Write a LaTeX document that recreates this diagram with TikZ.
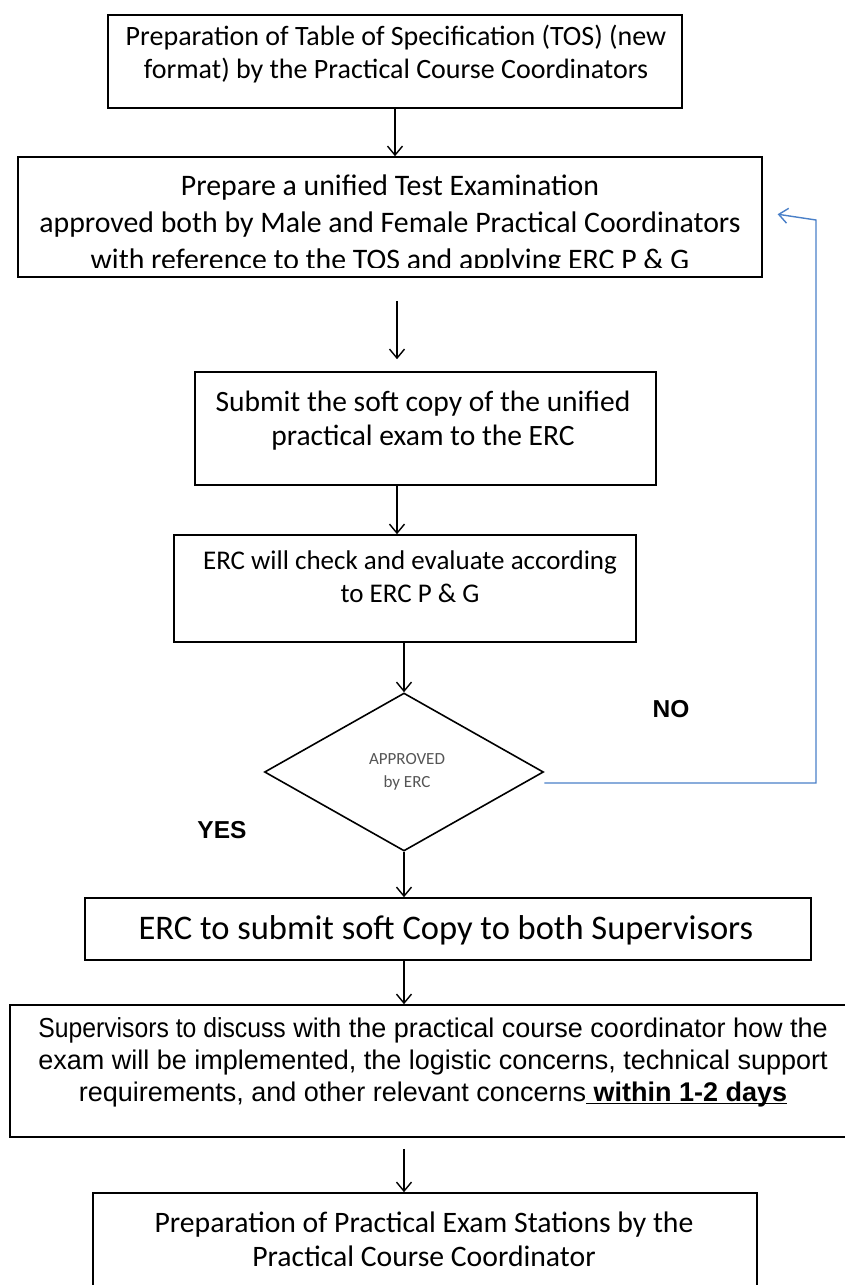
\documentclass[tikz,border=0pt]{standalone}
\usepackage{fontspec}
\setmainfont{Carlito}
\newfontfamily\arialn{Liberation Sans}
\newfontfamily\arialsm[FakeStretch=0.9]{Liberation Sans}
\newfontfamily\arialb{Liberation Sans}
\usetikzlibrary{shapes.geometric,arrows.meta,calc}
\definecolor{loopblue}{RGB}{74,128,200}
\definecolor{dtext}{RGB}{85,85,85}
\newcommand\myul[1]{\setbox0\hbox{#1}\rlap{\rule[-3pt]{\wd0}{1.3pt}}\box0}
\begin{document}
\begin{tikzpicture}[x=1pt,y=-1pt,
  box/.style={draw=black,line width=1.6pt,rectangle,inner sep=0pt},
  txt/.style={align=center,inner sep=0pt},
  flow/.style={draw=black,line width=1.4pt,-{Straight Barb[length=9pt,width=15pt]}},
  back/.style={draw=loopblue,line width=1.4pt,-{Straight Barb[length=9pt,width=15pt]}},
  lab/.style={inner sep=0pt,font=\arialb\bfseries\fontsize{24.5}{28}\selectfont}
]
\useasboundingbox[fill=white] (0,0) rectangle (844,1285);

% boxes
\node[box,minimum width=574pt,minimum height=93pt] (b1) at (395,61.5) {};
\node[txt,font=\fontsize{28}{33}\selectfont] (t1) at (396,54) {Preparation of Table of Specification (TOS) (new\\format) by the Practical Course Coordinators};

\node[box,minimum width=744pt,minimum height=120pt] (b2) at (390,217) {};
\begin{scope}
\clip ([yshift=10pt]b2.south west) rectangle (b2.north east);
\node[txt,font=\fontsize{29.8}{37}\selectfont] (t2) at (390,225) {Prepare a unified Test Examination\\approved both by Male and Female Practical Coordinators\\with reference to the TOS and applying ERC P \& G};
\end{scope}

\node[box,minimum width=461pt,minimum height=113pt] (b3) at (425.5,428.5) {};
\node[txt,font=\fontsize{29.5}{34}\selectfont] (t3) at (423,421) {Submit the soft copy of the unified\\practical exam to the ERC};

\node[box,minimum width=462pt,minimum height=107pt] (b4) at (405,588.5) {};
\node[txt,font=\fontsize{27}{33}\selectfont] (t4) at (410,577) {ERC will check and evaluate according\\to ERC P \& G};

\node[draw=black,line width=1.6pt,diamond,inner sep=0pt,minimum width=279pt,minimum height=158pt] (d) at (404,772) {};
\node[txt,text=dtext,font=\fontsize{17}{23}\selectfont] (td) at (407,772) {APPROVED\\by ERC};

\node[lab] (no) at (671,709) {NO};
\node[lab] (yes) at (222,830) {YES};

\node[box,minimum width=726pt,minimum height=62pt] (b5) at (448,929) {};
\node[txt,font=\fontsize{34.5}{40}\selectfont] (t5) at (446,930) {ERC to submit soft Copy to both Supervisors};

\node[box,minimum width=846pt,minimum height=132pt] (b6) at (433,1071) {};
\node[txt,font=\arialn\fontsize{27}{32}\selectfont] (t6) at (433,1062) {{\arialsm\fontsize{27.5}{32}\selectfont Supervisors to discuss} with the practical course coordinator how the\\exam will be implemented, the logistic concerns, technical support\\requirements, and other relevant concerns\myul{\textbf{\ within 1-2 days}}};

\node[box,minimum width=664pt,minimum height=107pt] (b7) at (425,1246.5) {};
\node[txt,font=\fontsize{29.7}{34}\selectfont] (t7) at (424,1239) {Preparation of Practical Exam Stations by the\\Practical Course Coordinator};

% connectors
\coordinate (x2) at (397,0);
\coordinate (x4) at (404,0);
\draw[flow] (b1.south) -- (b1.south |- b2.north);
\draw[flow,shorten <=23pt,shorten >=12pt] (x2 |- b2.south) -- (x2 |- b3.north);
\draw[flow] (x2 |- b3.south) -- (x2 |- b4.north);
\draw[flow] (x4 |- b4.south) -- (d.north);
\draw[flow] (d.south) -- (x4 |- b5.north);
\draw[flow] (x4 |- b5.south) -- (x4 |- b6.north);
\draw[flow,shorten <=11pt] (x4 |- b6.south) -- (x4 |- b7.north);

\coordinate (c2) at (816,220);
\draw[back,shorten >=15pt] ([yshift=-11pt]d.east) -| (c2) -- ([yshift=5pt]b2.east);
\end{tikzpicture}
\end{document}
